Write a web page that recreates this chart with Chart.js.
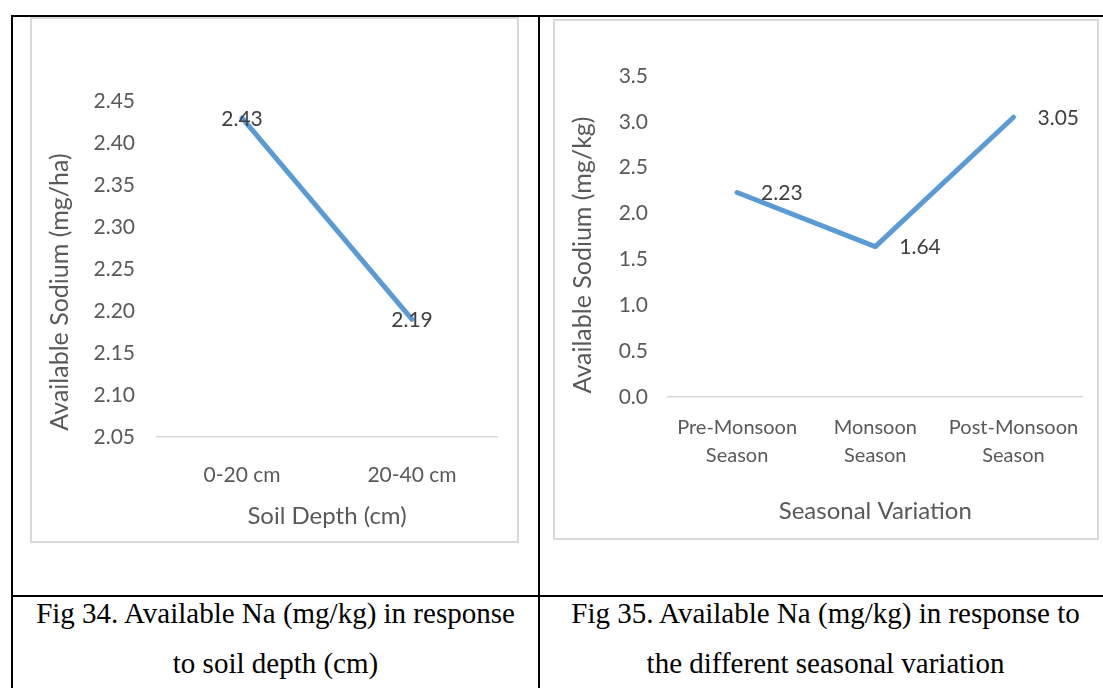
<!DOCTYPE html>
<html>
<head>
<meta charset="utf-8">
<title>Available Na charts</title>
<script src="https://cdn.jsdelivr.net/npm/chart.js@4.4.1/dist/chart.umd.min.js"></script>
<style>
  body { margin: 0; background: #fff; width: 1103px; height: 688px; overflow: hidden; position: relative; }
  .line { position: absolute; background: #000; }
  .frame { position: absolute; border: 2px solid #d9d9d9; background: #fff; }
  .frame canvas { display: block; }
  .caption { position: absolute; font-family: "Liberation Serif", "Times New Roman", serif; font-size: 29px; line-height: 50px; text-align: center; color: #000; }
</style>
</head>
<body>

<!-- table lines -->
<div class="line" style="left:11px; top:15px; width:1100px; height:2px;"></div>
<div class="line" style="left:11px; top:15px; width:2px; height:700px;"></div>
<div class="line" style="left:538px; top:15px; width:2px; height:700px;"></div>
<div class="line" style="left:11px; top:595px; width:1100px; height:2px;"></div>

<div class="frame" style="left:30px; top:17px;">
  <canvas id="depthChart" width="485" height="522"></canvas>
</div>
<div class="frame" style="left:553px; top:19px;">
  <canvas id="seasonChart" width="542" height="517"></canvas>
</div>

<div class="caption" style="left:13px; top:588px; width:525px;">Fig 34. Available Na (mg/kg) in response<br>to soil depth (cm)</div>
<div class="caption" style="left:540px; top:588px; width:571px;">Fig 35. Available Na (mg/kg) in response to<br>the different seasonal variation</div>

<script>
'use strict';

// data

let depthLabels = ['0-20 cm', '20-40 cm'];
let depthValues = [2.43, 2.19];
let depthTicks = [2.05, 2.45, 0.05]; // min, max, step

let seasonLabels = [['Pre-Monsoon', 'Season'], ['Monsoon', 'Season'], ['Post-Monsoon', 'Season']];
let seasonValues = [2.23, 1.64, 3.05];
let seasonTicks = [0, 3.5, 0.5];

let lineColor = '#5b9bd5';
let tickColor = '#595959';
let labelColor = '#404040';
let fontName = 'Lato, "Open Sans", sans-serif';

// draws the value next to each point and the rotated y title

let extrasPlugin = {
  id: 'extras',
  afterDatasetsDraw(chart, args, opts) {
    let ctx = chart.ctx;
    let meta = chart.getDatasetMeta(0);
    let values = chart.data.datasets[0].data;
    ctx.save();
    ctx.font = '21px ' + fontName;
    ctx.fillStyle = labelColor;
    ctx.textBaseline = 'middle';
    ctx.textAlign = opts.align;
    for (let i = 0; i < meta.data.length; i++) {
      let pt = meta.data[i];
      ctx.fillText(values[i].toFixed(2), pt.x + opts.dx, pt.y + opts.dy);
    }
    ctx.restore();

    ctx.save();
    ctx.font = '25px ' + fontName;
    ctx.fillStyle = tickColor;
    ctx.textAlign = 'center';
    ctx.textBaseline = 'middle';
    ctx.translate(opts.titleX, opts.titleY);
    ctx.rotate(-Math.PI / 2);
    ctx.fillText(opts.yTitle, 0, 0);
    ctx.restore();
  }
};

function makeChart(canvasId, labels, values, ticks, digits, setup) {
  let canvasElem = document.getElementById(canvasId);
  let chartObj = {
    type: 'line',
    data: {
      labels: labels,
      datasets: [{
        data: values,
        borderColor: lineColor,
        borderWidth: 5,
        borderCapStyle: 'round',
        borderJoinStyle: 'round',
        pointRadius: 0,
        tension: 0
      }]
    },
    options: {
      responsive: false,
      animation: false,
      layout: { padding: setup.padding },
      plugins: {
        legend: { display: false },
        tooltip: { enabled: false },
        extras: setup.extras
      },
      scales: {
        x: {
          offset: true,
          grid: { display: false, drawTicks: false },
          border: { display: true, color: '#d9d9d9', width: 1.5 },
          ticks: {
            color: tickColor,
            padding: setup.xPad,
            maxRotation: 0,
            autoSkip: false,
            font: { family: fontName, size: setup.xFont, lineHeight: setup.xLine }
          },
          title: {
            display: true,
            text: setup.xTitle,
            color: tickColor,
            font: { family: fontName, size: 24 },
            padding: { top: 0, bottom: setup.xTitlePad }
          },
          afterFit: function (scale) { scale.height = setup.xHeight; }
        },
        y: {
          min: ticks[0],
          max: ticks[1],
          grid: { display: false, drawTicks: false },
          border: { display: false },
          ticks: {
            stepSize: ticks[2],
            color: tickColor,
            padding: setup.yPad,
            font: { family: fontName, size: 21 },
            callback: function (v) { return Number(v).toFixed(digits); }
          },
          afterFit: function (scale) { scale.width = setup.yWidth; }
        }
      }
    },
    plugins: [extrasPlugin]
  };
  return new Chart(canvasElem, chartObj);
}

makeChart('depthChart', depthLabels, depthValues, depthTicks, 2, {
  padding: { top: 82, right: 20, left: 0, bottom: 0 },
  yWidth: 125,
  yPad: 22,
  xHeight: 104,
  xPad: 26,
  xFont: 21,
  xLine: 1.2,
  xTitle: 'Soil Depth (cm)',
  xTitlePad: 10,
  extras: { align: 'center', dx: 0, dy: 1, yTitle: 'Available Sodium (mg/ha)', titleX: 28, titleY: 273 }
});

makeChart('seasonChart', seasonLabels, seasonValues, seasonTicks, 1, {
  padding: { top: 55, right: 11, left: 0, bottom: 0 },
  yWidth: 113,
  yPad: 20,
  xHeight: 141,
  xPad: 17,
  xFont: 20,
  xLine: 1.4,
  xTitle: 'Seasonal Variation',
  xTitlePad: 12,
  extras: { align: 'left', dx: 24, dy: 1, yTitle: 'Available Sodium (mg/kg)', titleX: 28, titleY: 234 }
});
</script>
</body>
</html>
